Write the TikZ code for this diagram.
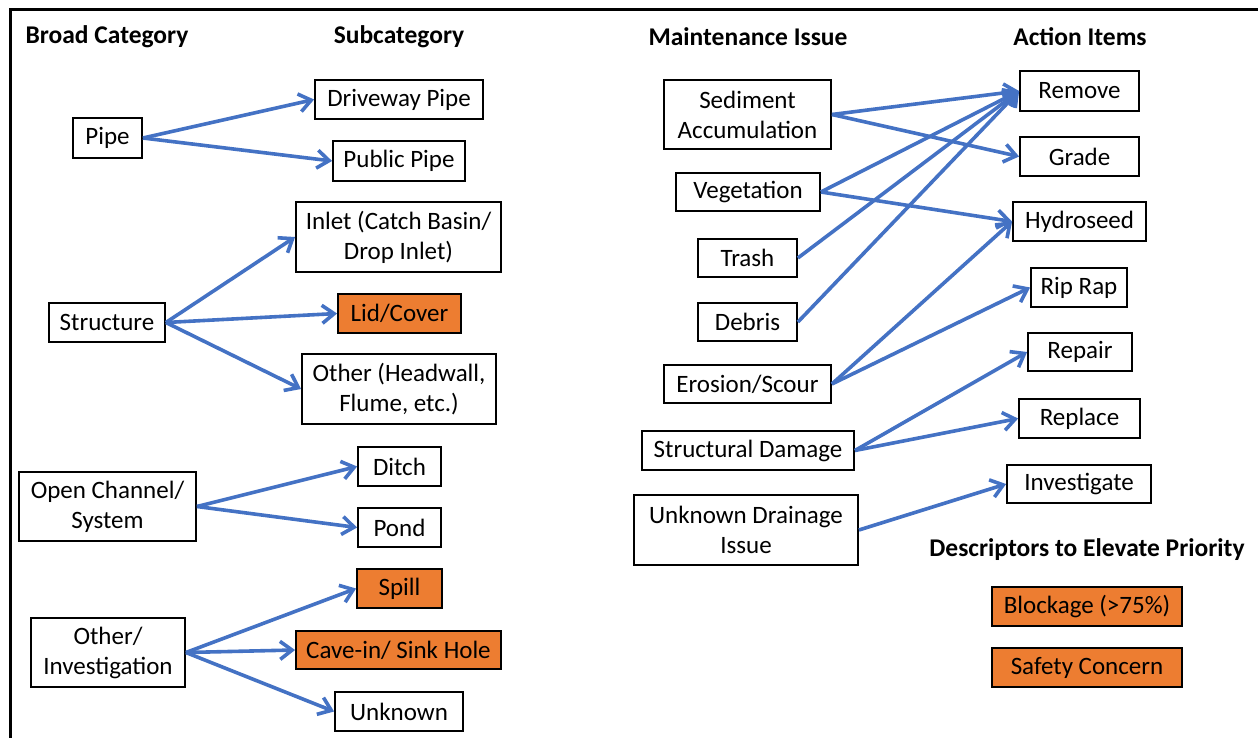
\documentclass[tikz,border=0pt]{standalone}
\usepackage{fontspec}
\setmainfont{Carlito}
\usetikzlibrary{arrows.meta}
\definecolor{arrblue}{HTML}{4472C4}
\definecolor{orng}{HTML}{ED7D31}
\begin{document}
\begin{tikzpicture}[x=1pt,y=-1pt,
  box/.style={draw=black, line width=1.8pt, inner sep=0pt, align=center, font=\fontsize{25}{30}\selectfont},
  obox/.style={box, fill=orng},
  head/.style={font=\fontsize{25.5}{30}\selectfont\bfseries, inner sep=0pt},
  arr/.style={draw=arrblue, line width=3.6pt, -{Straight Barb[length=12pt,width=18pt]}},
]
\useasboundingbox (0,0) rectangle (1258,738);
\draw[line width=3pt] (10,745) -- (10,9.5) -- (1265,9.5);

% headings
\node[head] (h1) at (107,37) {Broad Category};
\node[head] (h2) at (399,37) {Subcategory};
\node[head] (h3) at (748,37) {Maintenance Issue};
\node[head] (h4) at (1080,37) {Action Items};
\node[head] (h5) at (1087,550) {Descriptors to Elevate Priority};

% broad category
\node[box, minimum width=69, minimum height=40] (pipe) at (107.5,138) {Pipe};
\node[box, minimum width=116, minimum height=39] (struct) at (107,322.5) {Structure};
\node[box, minimum width=177, minimum height=69] (open) at (107.5,506.5) {Open Channel/\\System};
\node[box, minimum width=154, minimum height=69] (otherinv) at (108,652.5) {Other/\\Investigation};

% subcategory
\node[box, minimum width=168, minimum height=39] (drive) at (399,99.5) {Driveway Pipe};
\node[box, minimum width=132, minimum height=40] (public) at (399,161) {Public Pipe};
\node[box, minimum width=205, minimum height=70] (inlet) at (398.5,237) {Inlet (Catch Basin/\\Drop Inlet)};
\node[obox, minimum width=123, minimum height=39] (lid) at (399.5,313.5) {Lid/Cover};
\node[box, minimum width=194, minimum height=70] (otherhw) at (399,389) {Other (Headwall,\\Flume, etc.)};
\node[box, minimum width=83, minimum height=39] (ditch) at (399.5,466.5) {Ditch};
\node[box, minimum width=83, minimum height=39] (pond) at (399.5,527.5) {Pond};
\node[obox, minimum width=85, minimum height=39] (spill) at (399.5,588.5) {Spill};
\node[obox, minimum width=205, minimum height=38] (cave) at (398.5,650) {Cave-in/ Sink Hole};
\node[box, minimum width=128, minimum height=39] (unknown) at (399,711.5) {Unknown};

% maintenance issue
\node[box, minimum width=167, minimum height=69] (sed) at (747.5,114.5) {Sediment\\Accumulation};
\node[box, minimum width=144, minimum height=38] (veg) at (748,192) {Vegetation};
\node[box, minimum width=99, minimum height=38] (trash) at (747.5,258) {Trash};
\node[box, minimum width=99, minimum height=38] (debris) at (747.5,322) {Debris};
\node[box, minimum width=167, minimum height=38] (eros) at (747.5,384) {Erosion/Scour};
\node[box, minimum width=212, minimum height=39] (struc) at (748,450.5) {Structural Damage};
\node[box, minimum width=224, minimum height=70] (unk) at (746,530) {Unknown Drainage\\Issue};

% action items
\node[box, minimum width=119, minimum height=40] (remove) at (1079.5,91) {Remove};
\node[box, minimum width=119, minimum height=39] (grade) at (1079.5,156.5) {Grade};
\node[box, minimum width=133, minimum height=39] (hydro) at (1079.5,221.5) {Hydroseed};
\node[box, minimum width=96, minimum height=39] (rip) at (1079,287.5) {Rip Rap};
\node[box, minimum width=104, minimum height=38] (repair) at (1080,352) {Repair};
\node[box, minimum width=121, minimum height=39] (replace) at (1079.5,418.5) {Replace};
\node[box, minimum width=144, minimum height=38] (invest) at (1079,484) {Investigate};

% descriptors
\node[obox, minimum width=190, minimum height=39] (block) at (1087,606.5) {Blockage (>75\%)};
\node[obox, minimum width=190, minimum height=39] (safety) at (1087,667.5) {Safety Concern};

% connectors left
\draw[arr] (pipe.east) -- (drive.west);
\draw[arr] (pipe.east) -- (public.west);
\draw[arr] (struct.east) -- (inlet.west);
\draw[arr] (struct.east) -- (lid.west);
\draw[arr] (struct.east) -- (otherhw.west);
\draw[arr] (open.east) -- (ditch.west);
\draw[arr] (open.east) -- (pond.west);
\draw[arr] (otherinv.east) -- (spill.west);
\draw[arr] (otherinv.east) -- (cave.west);
\draw[arr] (otherinv.east) -- (unknown.west);

% connectors right
\draw[arr] (sed.east) -- (remove.west);
\draw[arr] (sed.east) -- (grade.west);
\draw[arr] (veg.east) -- (remove.west);
\draw[arr] (veg.east) -- (hydro.west);
\draw[arr] (trash.east) -- (remove.west);
\draw[arr] (debris.east) -- (remove.west);
\draw[arr] (eros.east) -- (hydro.west);
\draw[arr] (eros.east) -- (rip.west);
\draw[arr] (struc.east) -- (repair.west);
\draw[arr] (struc.east) -- (replace.west);
\draw[arr] (unk.east) -- (invest.west);
\end{tikzpicture}
\end{document}
